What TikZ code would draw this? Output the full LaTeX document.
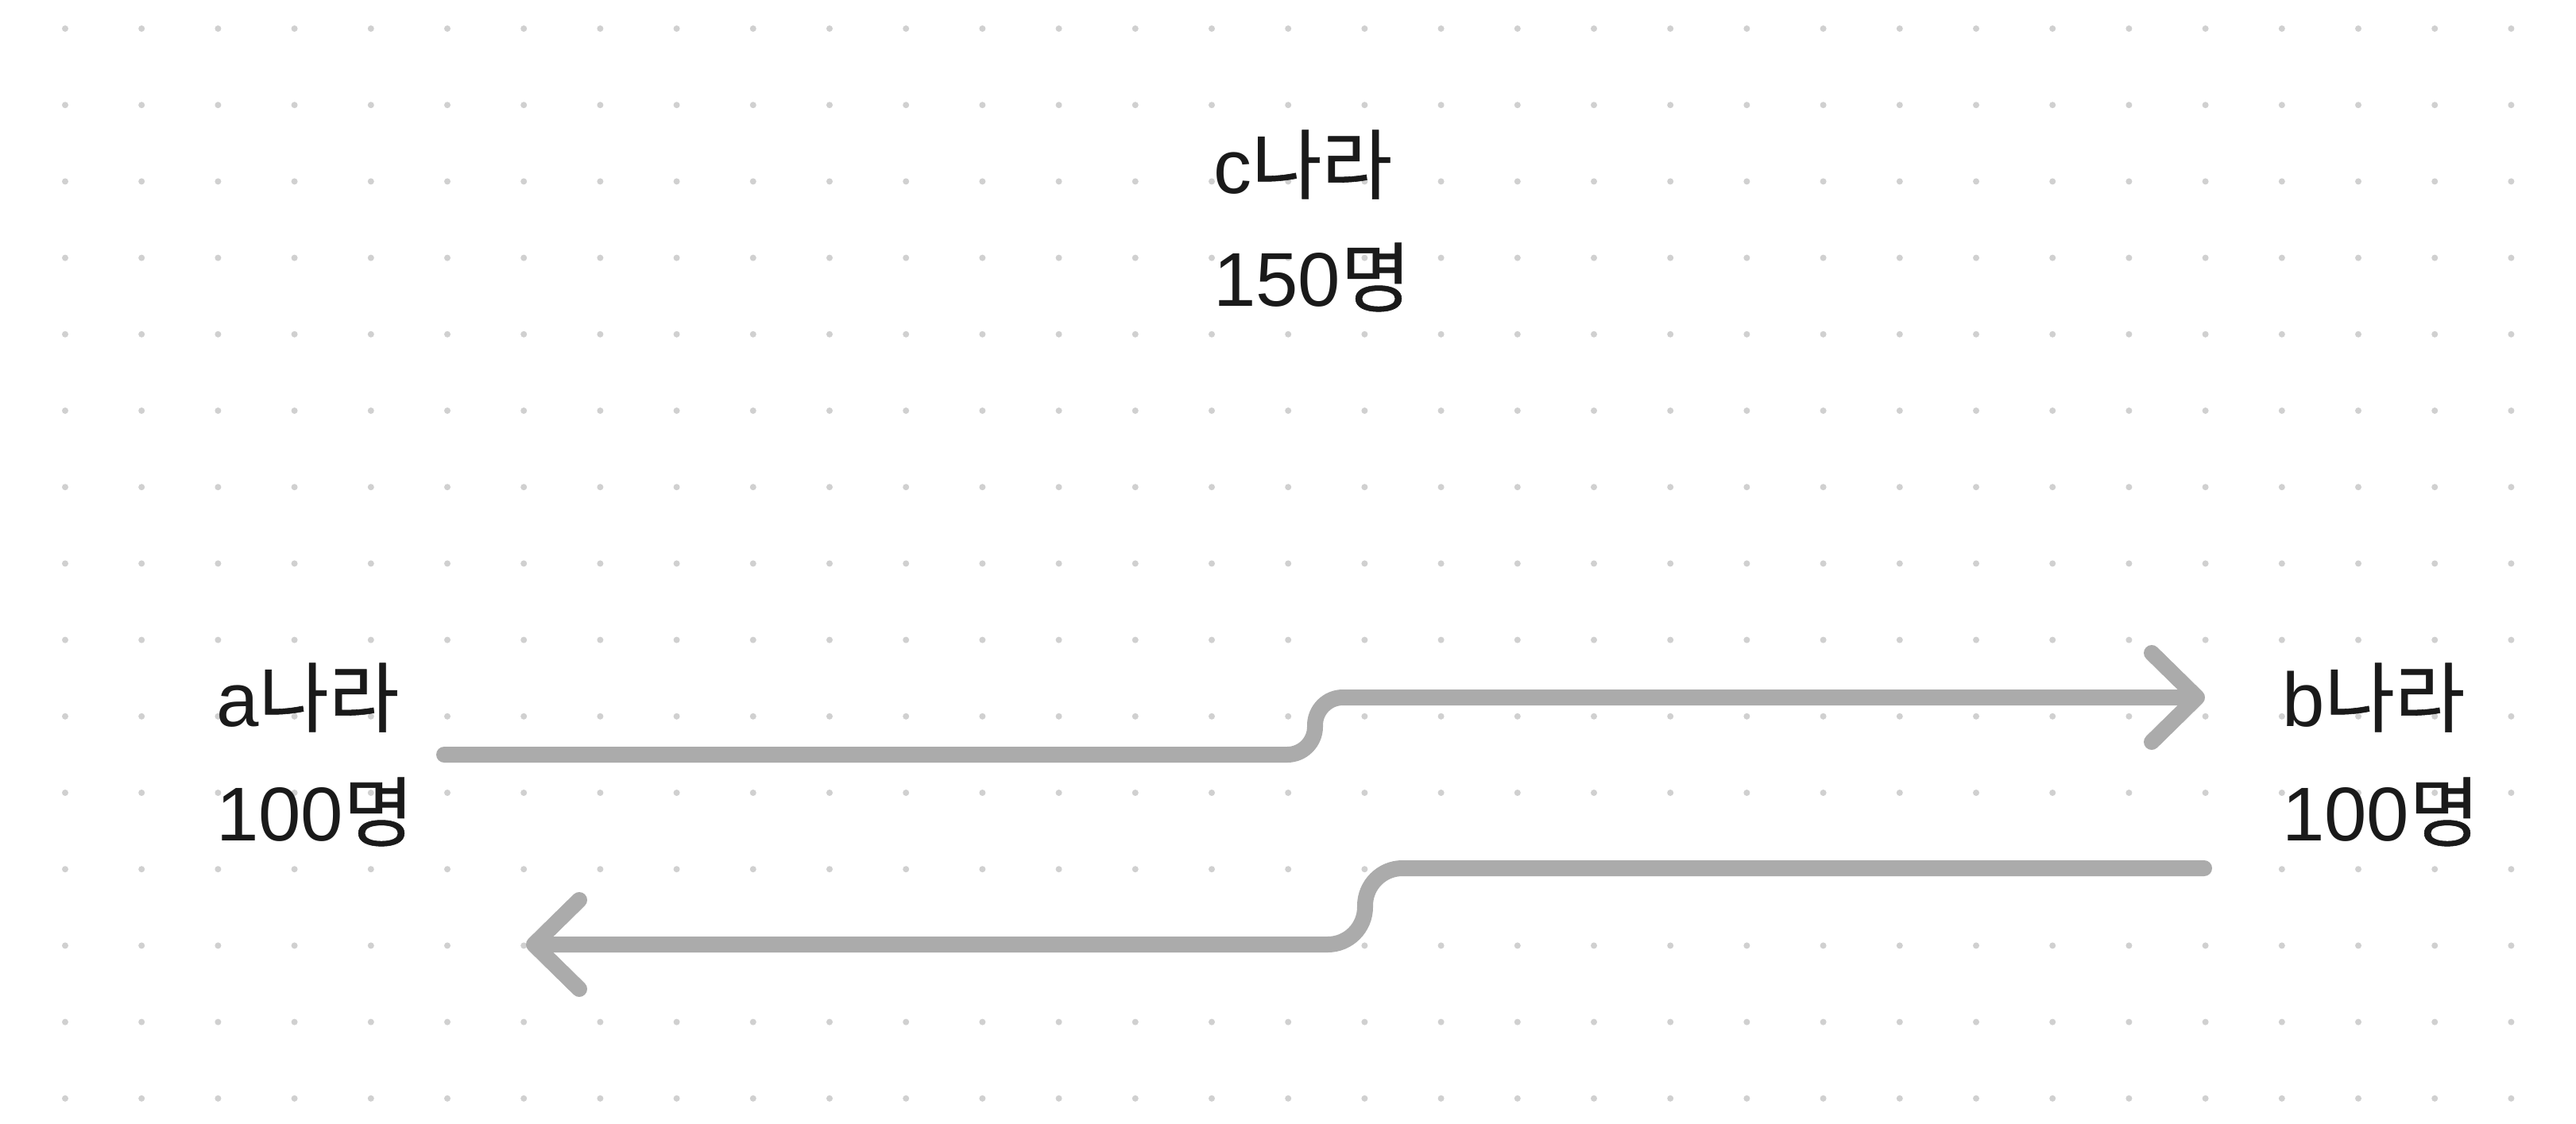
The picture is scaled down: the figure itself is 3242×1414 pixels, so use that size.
\documentclass[tikz,border=0pt]{standalone}
\usepackage{fontspec}
\setmainfont{Liberation Sans}
\newfontfamily\kr{Noto Sans CJK KR}[FakeBold=0.6]
\usetikzlibrary{arrows.meta}
\definecolor{dotc}{HTML}{D0D0D0}
\definecolor{arrc}{HTML}{ABABAB}
\definecolor{txtc}{HTML}{1A1A1A}
\tikzset{
  lbl/.style={anchor=base west, inner sep=0pt, text=txtc, font=\fontsize{96}{110}\selectfont},
  flow/.style={draw=arrc, line width=20pt, line cap=round, line join=round,
    -{Straight Barb[length=57pt, width=112pt, round]}}
}
\begin{document}
\begin{tikzpicture}[x=1pt,y=-1pt]
\useasboundingbox (0,0) rectangle (3242,1414);
\fill[white] (0,0) rectangle (3242,1414);
\foreach \i in {0,...,32}{
  \foreach \j in {0,...,14}{
    \fill[dotc] ({82+96.2*\i},{36+96.2*\j}) circle (4);
  }
}
% labels
\node[lbl] (cname) at (1527,243) {c{\kr 나라}};
\node[lbl] (cnum)  at (1527,385) {150{\kr 명}};
\node[lbl] (aname) at (272,914) {a{\kr 나라}};
\node[lbl] (anum)  at (272,1058) {100{\kr 명}};
\node[lbl] (bname) at (2872,914) {b{\kr 나라}};
\node[lbl] (bnum)  at (2872,1058) {100{\kr 명}};
% connector ends
\coordinate (aout) at (559,950);
\coordinate (bin)  at (2775,878);
\coordinate (bout) at (2774,1093);
\coordinate (ain)  at (662,1189);
\draw[flow, rounded corners=35pt] (aout) -- (aout -| 1655,0) -- (bin -| 1655,0) -- (bin);
\draw[flow, rounded corners=47pt] (bout) -- (bout -| 1718,0) -- (ain -| 1718,0) -- (ain);
\end{tikzpicture}
\end{document}
